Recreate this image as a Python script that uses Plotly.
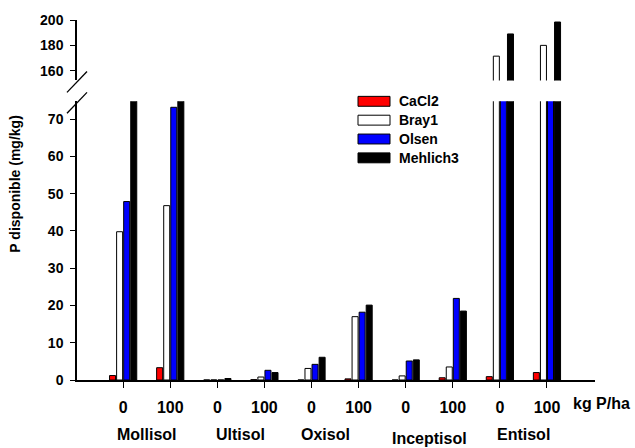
import plotly.graph_objects as go

# ---- data ----
soils = ["Mollisol", "Ultisol", "Oxisol", "Inceptisol", "Entisol"]
rates = ["0", "100"]
tick_labels = [r for s in soils for r in rates]
positions = list(range(1, 11))

CaCl2 = [1.2, 3.3, 0.0, 0.1, 0.0, 0.3, 0.0, 0.6, 0.9, 2.0]
Bray1 = [39.8, 46.8, 0.0, 0.8, 3.1, 17.0, 1.1, 3.5, 171.5, 180.0]
Olsen = [47.9, 73.2, 0.0, 2.6, 4.2, 18.2, 5.1, 21.9, 120.0, 125.0]
Mehlich3 = [100.0, 110.0, 0.4, 2.0, 6.1, 20.1, 5.4, 18.5, 189.0, 198.4]

series = [
    ("CaCl2", CaCl2, "#ff0000"),
    ("Bray1", Bray1, "#ffffff"),
    ("Olsen", Olsen, "#0000ff"),
    ("Mehlich3", Mehlich3, "#000000"),
]

FONT = "Liberation Sans, Arial, sans-serif"

# ---- pixel geometry helpers (layout only) ----
W, H = 635, 448
L, R, T, B = 77, 595, 17, 380


def px(x):
    return (x - L) / (R - L)


def py(y):
    return (B - y) / (B - T)


fig = go.Figure()
for name, vals, col in series:
    for yax in ("y", "y2"):
        fig.add_trace(go.Bar(
            x=positions, y=vals, name=name, yaxis=yax, xaxis="x",
            marker=dict(color=col, line=dict(color="#000000", width=1)),
            showlegend=False, hoverinfo="x+y+name",
        ))

tickfont = dict(family=FONT, size=14, color="black", weight="bold")

fig.update_layout(
    width=W, height=H,
    margin=dict(l=L, r=W - R, t=T, b=H - B),
    paper_bgcolor="white", plot_bgcolor="white",
    barmode="group", bargap=0.4, bargroupgap=0.15,
    showlegend=False,
    xaxis=dict(
        range=[0.02, 11.02], tickmode="array", tickvals=positions,
        ticktext=tick_labels, ticks="outside", ticklen=6, tickwidth=1,
        tickcolor="black", showline=True, linecolor="black", linewidth=1.5,
        showgrid=False, zeroline=False, anchor="y",
        tickfont=dict(family=FONT, size=16, color="black", weight="bold"),
        ticklabelstandoff=6,
    ),
    yaxis=dict(
        domain=[0, py(99)], range=[0, 74.8], tickmode="array",
        tickvals=[0, 10, 20, 30, 40, 50, 60, 70],
        ticks="outside", ticklen=5, tickwidth=1, tickcolor="black",
        showline=True, linecolor="black", linewidth=1.5,
        showgrid=False, zeroline=False, tickfont=tickfont, anchor="x",
        ticklabelstandoff=4,
    ),
    yaxis2=dict(
        domain=[py(78), 1], range=[152.3, 200], tickmode="array",
        tickvals=[160, 180, 200],
        ticks="outside", ticklen=5, tickwidth=1, tickcolor="black",
        showline=True, linecolor="black", linewidth=1.5,
        showgrid=False, zeroline=False, tickfont=tickfont, anchor="x",
        ticklabelstandoff=4,
    ),
    yaxis3=dict(
        overlaying="y", range=[0, 74.8], tickmode="array",
        tickvals=[0, 10, 20, 30, 40, 50, 60, 70],
        ticks="inside", ticklen=5, tickwidth=1, tickcolor="black",
        showticklabels=False, showline=False, showgrid=False,
        zeroline=False, anchor="x",
    ),
    yaxis4=dict(
        overlaying="y2", range=[152.3, 200], tickmode="array",
        tickvals=[160, 180, 200],
        ticks="inside", ticklen=5, tickwidth=1, tickcolor="black",
        showticklabels=False, showline=False, showgrid=False,
        zeroline=False, anchor="x",
    ),
)

shapes = []
annotations = []

# axis break slashes
for (x0, y0, x1, y1) in [(67, 90, 87, 69), (67, 111, 87, 90)]:
    shapes.append(dict(type="line", xref="paper", yref="paper",
                       x0=px(x0), y0=py(y0), x1=px(x1), y1=py(y1),
                       line=dict(color="black", width=1.3)))

# legend (manual)
for i, (name, vals, col) in enumerate(series):
    top = 94 + 19 * i
    shapes.append(dict(type="rect", xref="paper", yref="paper",
                       x0=px(358), x1=px(390), y0=py(top), y1=py(top + 10),
                       fillcolor=col, line=dict(color="black", width=1)))
    annotations.append(dict(text=name, xref="paper", yref="paper",
                            x=px(397), y=py(top + 5), xanchor="left",
                            yanchor="middle", showarrow=False,
                            font=dict(family=FONT, size=14, color="black",
                                      weight="bold")))

# soil labels
soil_dx = [0, 0, -0.2, 0, 0]
soil_y = [435, 435, 435, 439, 435]
for i, s in enumerate(soils):
    annotations.append(dict(text=s, xref="x", yref="paper",
                            x=2 * i + 1.5 + soil_dx[i], y=py(soil_y[i]),
                            xanchor="center", yanchor="middle",
                            showarrow=False,
                            font=dict(family=FONT, size=16, color="black",
                                      weight="bold")))

annotations.append(dict(text="kg P/ha", xref="paper", yref="paper",
                        x=px(571), y=py(404), xanchor="left",
                        yanchor="middle", showarrow=False,
                        font=dict(family=FONT, size=16, color="black",
                                  weight="bold")))

annotations.append(dict(text="P disponible (mg/kg)", xref="paper",
                        yref="paper", x=px(15), y=py(183), xanchor="center",
                        yanchor="middle", textangle=-90, showarrow=False,
                        font=dict(family=FONT, size=14, color="black",
                                  weight="bold")))

fig.update_layout(shapes=shapes, annotations=annotations)
fig.write_html(
    "out.html",
    config={"displayModeBar": False},
    post_script="document.body.style.margin='0';document.body.style.overflow='hidden';",
)
